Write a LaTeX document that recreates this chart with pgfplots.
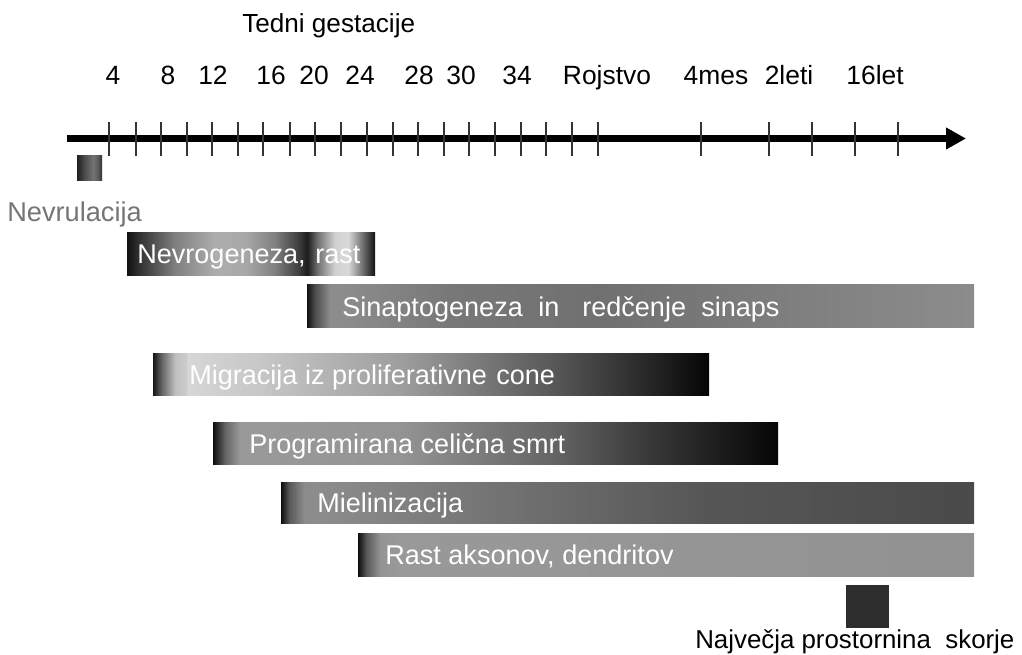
\documentclass[border=0pt]{standalone}
\usepackage{pgfplots}
\pgfplotsset{compat=1.18}
\usepackage{fontspec}
\setmainfont{Liberation Sans}
\usetikzlibrary{arrows.meta}
\newcommand\fb{\fontsize{20.3pt}{24pt}\selectfont}
\newcommand\ft{\fontsize{19.8pt}{24pt}\selectfont}
% horizontal shadings: bar spans 25bp..75bp
\pgfdeclarehorizontalshading{nevrul}{100bp}{gray(0bp)=(0.12); gray(25bp)=(0.12); gray(40bp)=(0.3); gray(57.5bp)=(0.45); gray(67.5bp)=(0.35); gray(75bp)=(0.18); gray(100bp)=(0.18)}
\pgfdeclarehorizontalshading{nevro}{100bp}{gray(0bp)=(0.07); gray(25bp)=(0.07); gray(27.6bp)=(0.2); gray(34.7bp)=(0.5); gray(42.7bp)=(0.68); gray(48.8bp)=(0.66); gray(54.8bp)=(0.5); gray(59.5bp)=(0.25); gray(61.1bp)=(0.13); gray(61.4bp)=(0.12); gray(63.5bp)=(0.45); gray(66.9bp)=(0.82); gray(69.6bp)=(0.85); gray(72.4bp)=(0.45); gray(75bp)=(0.07); gray(100bp)=(0.07)}
\pgfdeclarehorizontalshading{sinap}{100bp}{gray(0bp)=(0.07); gray(25bp)=(0.07); gray(25.6bp)=(0.3); gray(26.7bp)=(0.55); gray(27.8bp)=(0.55); gray(35.7bp)=(0.47); gray(47bp)=(0.44); gray(62bp)=(0.5); gray(75bp)=(0.55); gray(100bp)=(0.55)}
\pgfdeclarehorizontalshading{migr}{100bp}{gray(0bp)=(0.08); gray(25bp)=(0.08); gray(25.8bp)=(0.4); gray(27bp)=(0.75); gray(28bp)=(0.8); gray(28.1bp)=(0.84); gray(34.6bp)=(0.78); gray(47.2bp)=(0.62); gray(60.7bp)=(0.35); gray(69.7bp)=(0.15); gray(75bp)=(0.02); gray(100bp)=(0.02)}
\pgfdeclarehorizontalshading{prog}{100bp}{gray(0bp)=(0.05); gray(25bp)=(0.05); gray(26.1bp)=(0.4); gray(27.4bp)=(0.6); gray(29.2bp)=(0.6); gray(41.5bp)=(0.58); gray(54.8bp)=(0.4); gray(63.7bp)=(0.22); gray(75bp)=(0.02); gray(100bp)=(0.02)}
\pgfdeclarehorizontalshading{miel}{100bp}{gray(0bp)=(0.05); gray(25bp)=(0.05); gray(25.6bp)=(0.35); gray(26.7bp)=(0.55); gray(27.8bp)=(0.55); gray(40.8bp)=(0.45); gray(55.2bp)=(0.34); gray(75bp)=(0.29); gray(100bp)=(0.29)}
\pgfdeclarehorizontalshading{rast}{100bp}{gray(0bp)=(0.05); gray(25bp)=(0.05); gray(25.7bp)=(0.35); gray(26.8bp)=(0.58); gray(28.4bp)=(0.6); gray(75bp)=(0.57); gray(100bp)=(0.57)}
\definecolor{tickgray}{HTML}{333333}
\definecolor{labgray}{HTML}{757575}
\definecolor{boxgray}{HTML}{2D2D2D}
\begin{document}
\begin{tikzpicture}
\begin{axis}[scale only axis, width=766.5pt, height=491.25pt,
  xmin=0, xmax=1022, ymin=0, ymax=655, y dir=reverse,
  axis lines=none, clip=false]
% invisible frame for bounding box
\addplot[draw=none, forget plot] coordinates {(0,0) (1022,655)};
% timeline
\addplot[line width=5pt, -{Triangle[length=15pt,width=15.5pt]}] coordinates {(67,138.5) (966,138.5)};
\addplot[only marks, mark=|, mark size=12.75pt, mark options={line width=1.1pt, draw=tickgray}] table {
x y
109 139
136 139
161 139
187 139
212 139
238 139
263 139
290 139
315 139
341 139
367 139
393 139
418 139
444 139
469 139
495 139
521 139
546 139
572 139
598 139
701 139
769 139
812 139
855 139
898 139
};
% bars
\addplot[draw=none, shade, shading=nevrul] coordinates {(77,156) (102,156) (102,181) (77,181)} -- cycle;
\addplot[draw=none, shade, shading=nevro] coordinates {(127,233) (375,233) (375,276) (127,276)} -- cycle;
\addplot[draw=none, shade, shading=sinap] coordinates {(307,285) (974,285) (974,327) (307,327)} -- cycle;
\addplot[draw=none, shade, shading=migr] coordinates {(153,353) (709,353) (709,395) (153,395)} -- cycle;
\addplot[draw=none, shade, shading=prog] coordinates {(213,422) (778,422) (778,464) (213,464)} -- cycle;
\addplot[draw=none, shade, shading=miel] coordinates {(281,482) (974,482) (974,523) (281,523)} -- cycle;
\addplot[draw=none, shade, shading=rast] coordinates {(358,533) (974,533) (974,576) (358,576)} -- cycle;
\addplot[draw=none, fill=boxgray] coordinates {(846,585) (889,585) (889,628) (846,628)} -- cycle;
% texts
\begin{scope}[every node/.style={inner sep=0pt}]
\node[anchor=base west, font=\fontsize{19.6pt}{23pt}\selectfont] at (axis cs:242,33) {Tedni gestacije};
\begin{scope}[every node/.append style={anchor=base, font=\ft}]
\node at (axis cs:113,85) {4};
\node at (axis cs:168,85) {8};
\node at (axis cs:213,85) {12};
\node at (axis cs:271,85) {16};
\node at (axis cs:314,85) {20};
\node at (axis cs:360,85) {24};
\node at (axis cs:419,85) {28};
\node at (axis cs:461,85) {30};
\node at (axis cs:517,85) {34};
\node at (axis cs:607,85) {Rojstvo};
\node at (axis cs:716,85) {4mes};
\node at (axis cs:789,85) {2leti};
\node at (axis cs:875,85) {16let};
\end{scope}
\node[anchor=base west, text=labgray, font=\fontsize{20.4pt}{24pt}\selectfont] at (axis cs:7,222) {Nevrulacija};
\begin{scope}[every node/.append style={anchor=base west, text=white, font=\fb}]
\node at (axis cs:137,264) {Nevrogeneza,};
\node at (axis cs:315,264) {rast};
\node at (axis cs:342,316) {Sinaptogeneza};
\node at (axis cs:538,316) {in};
\node at (axis cs:582,316) {red\v{c}enje};
\node at (axis cs:701,316) {sinaps};
\node at (axis cs:189,384) {Migracija iz proliferativne};
\node at (axis cs:496,384) {cone};
\node at (axis cs:249,453) {Programirana celi\v{c}na smrt};
\node at (axis cs:317,512) {Mielinizacija};
\node at (axis cs:385,564) {Rast aksonov, dendritov};
\end{scope}
\node[anchor=base west, font=\fontsize{19.4pt}{23pt}\selectfont] at (axis cs:695,648) {Najve\v{c}ja prostornina\ \ skorje};
\end{scope}
\end{axis}
\end{tikzpicture}
\end{document}
